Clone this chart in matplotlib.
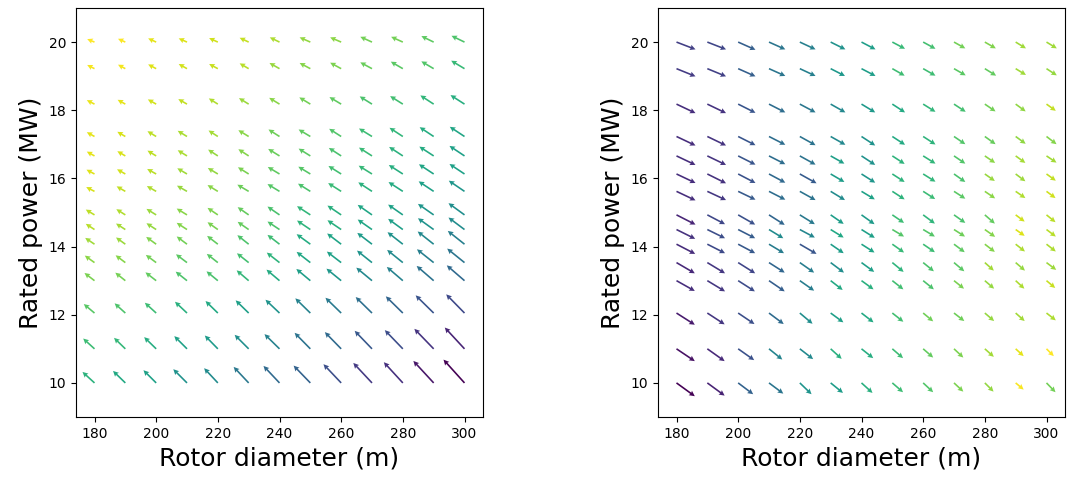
import numpy as np
import matplotlib
matplotlib.use("Agg")
import matplotlib.pyplot as plt

# Grid of designs
rotor_diameter = [180, 190, 200, 210, 220, 230, 240, 250, 260, 270, 280, 290, 300]
rated_power = [10, 11, 12.05, 13, 13.53, 14.07, 14.5, 14.93, 15.62, 16.13,
               16.66, 17.23, 18.18, 19.22, 20]

# Left panel: arrow components (leftward length, upward length), one row per rated power
left_dx = [
    [12, 12.3, 12.7, 13.7, 13.7, 15, 16, 16.7, 17.7, 18.7, 19, 20.3, 21],
    [11.3, 11.3, 12, 12.7, 13, 14, 15, 15.7, 16.3, 17.3, 18, 19.3, 19.7],
    [10.7, 10.7, 11.3, 12, 12.3, 13, 14, 15, 15.7, 16.3, 17, 18, 18.3],
    [10, 10, 10.7, 11.3, 11.3, 12, 13, 14, 14.7, 15.7, 16, 17, 17.7],
    [9.7, 9.7, 10.3, 11, 11, 11.7, 12.7, 13.7, 14.3, 15, 15.7, 16.7, 17.3],
    [9.3, 9.3, 10, 10.3, 10.7, 11.3, 12, 13.7, 14, 14.7, 15.3, 16, 16.7],
    [8.7, 9.3, 9.7, 10.3, 10.3, 11, 12, 13.3, 13.7, 14.3, 14.7, 15.7, 16],
    [8.7, 9, 9.7, 10.3, 10.3, 11, 12, 13.3, 13.7, 14.3, 14.7, 15.7, 16],
    [8.3, 8.7, 9.3, 10, 10.3, 11.3, 12, 12.3, 13, 13.7, 14.3, 15, 15.7],
    [8, 8.3, 9, 9.7, 10, 10.7, 11.7, 12, 12.7, 13.3, 14, 14.7, 15],
    [7.7, 8, 8.7, 9.3, 9.7, 10.3, 11.3, 11.7, 12.3, 13, 13.7, 14.3, 15],
    [7.7, 8, 8.7, 9.3, 9.3, 10.3, 11, 11.7, 12, 13, 13.3, 14, 14.7],
    [7.7, 7.7, 8.3, 8.7, 9, 9.7, 10.3, 11, 11.7, 12.3, 12.7, 13.3, 14],
    [7.3, 7.3, 8, 8.3, 8.7, 9, 10, 10.7, 11, 11.7, 12, 12.3, 13.3],
    [7.3, 7.3, 8, 8.3, 8.7, 9, 9.7, 10.7, 11, 11.7, 11.7, 12.3, 13],
]
left_dy = [
    [11, 12, 12.7, 13.7, 14.7, 16, 17, 17.3, 18.7, 20, 20.7, 22, 23.3],
    [10.3, 11, 11.7, 12.7, 13.3, 14, 14.7, 16, 16.7, 18, 18.7, 20, 21.3],
    [9, 9.7, 10.3, 11.3, 12, 12.7, 13.3, 14.7, 15.3, 16, 16.7, 17.7, 18.7],
    [7.7, 8, 8.3, 9, 9.3, 10.3, 11, 11.7, 12, 13, 13.7, 14.7, 15.3],
    [7, 7.3, 7.7, 8.3, 8.7, 9.3, 10, 10.7, 11, 12, 12.7, 13.3, 14],
    [6.3, 6.7, 7.3, 7.7, 8.3, 9, 9.3, 10, 10.7, 11.3, 12, 12.7, 13.3],
    [5.7, 6, 6.3, 6.7, 7.3, 7.7, 8, 9, 9.3, 10, 10.7, 11.3, 12],
    [5.3, 5.7, 6, 6.3, 7, 7.7, 8.3, 8.7, 9.3, 10, 10.3, 11, 11.7],
    [4.3, 5, 5.3, 5.7, 6.3, 6.7, 7.3, 7.7, 8.3, 9, 9.3, 10, 10.7],
    [4.3, 4.7, 5, 5.7, 6, 6.7, 7, 7.3, 8, 8.3, 9, 9.7, 10],
    [4.3, 4.7, 5.3, 5.7, 6.3, 6.7, 7, 7.3, 8, 8.3, 9, 9.3, 10],
    [4.3, 4.7, 5.3, 5.7, 6, 6.3, 7, 7, 7.7, 8, 8.7, 9.3, 9.7],
    [4, 4.3, 4.7, 5, 5.7, 6, 6.3, 6.7, 7, 7.7, 8, 8.7, 9],
    [3.7, 4, 4.3, 4.7, 4.7, 5.3, 5.7, 5.7, 6, 6.3, 7, 7.3, 8],
    [3, 3.3, 3.7, 3.7, 4, 4.3, 4.7, 4.7, 4.7, 5.3, 5.3, 6, 6.3],
]

# Right panel: arrow components (rightward length, downward length)
right_dx = [
    [18.3, 17.3, 15, 14.3, 11.7, 12.3, 11, 10.7, 10, 9.3, 8.7, 8, 9],
    [18.3, 17.3, 16, 13.3, 13.3, 11, 11.7, 10.7, 10, 9.3, 9, 8, 7.3],
    [18.3, 17.3, 16.3, 14.7, 12.7, 12.7, 12, 11, 10, 10.3, 9.3, 9, 9.3],
    [18.3, 17.7, 16.7, 15.7, 14.3, 12, 12, 11, 10.7, 10, 9.3, 8.7, 8.7],
    [18.3, 17.7, 17, 15.7, 14.3, 13.3, 12.7, 11.3, 10.7, 10.3, 9, 9.3, 9.7],
    [18.7, 17.7, 17, 15, 16.7, 13, 13, 11.7, 11.7, 10.7, 10, 9.3, 9.3],
    [18.7, 17.7, 17, 14.3, 15, 13, 13.3, 11.7, 11.7, 11, 10.3, 9, 9.3],
    [19, 17.7, 17, 15.7, 15, 13, 13, 11.7, 11.7, 11.3, 10, 9, 9],
    [19, 18.7, 17.3, 16.3, 15.7, 14.3, 13.3, 12.3, 12, 11.3, 10.3, 9.7, 9],
    [19, 18.7, 17.3, 16.3, 16.7, 13.7, 13.7, 12.3, 12.3, 11.3, 10, 9.7, 9.3],
    [19, 18.7, 17.3, 16.3, 15.7, 13.7, 13.7, 12.3, 12.3, 11.3, 10.3, 9.7, 10],
    [19, 18.7, 17.3, 16.3, 15.7, 14.7, 13.7, 12.7, 12.3, 11.3, 10.7, 10, 10],
    [19, 18.7, 17.3, 16.3, 15.7, 14.7, 13.7, 12.7, 12.3, 11.7, 10.7, 10, 9.3],
    [19, 18.7, 17.3, 16.3, 15.7, 14.3, 14, 12.3, 12.3, 11.7, 11.3, 10.3, 10.3],
    [19, 18.7, 17.3, 16.3, 15.7, 14.7, 14, 12.7, 12.3, 11.3, 11, 10.3, 10.3],
]
right_dy = [
    [13.3, 12.7, 11.3, 10.7, 11.3, 10, 10, 9.3, 9.3, 8.7, 8.7, 6.7, 9.3],
    [12.3, 12.3, 11.3, 10.7, 10.3, 10, 9.3, 9.3, 8.7, 8.7, 8, 7.3, 7.3],
    [11.7, 11.3, 11, 11, 10.7, 9.3, 9.3, 8.7, 8.3, 8, 8, 8, 7.3],
    [10.3, 10.7, 10.7, 10.7, 10, 9.3, 8.7, 8.7, 8.7, 8, 8, 8, 7.3],
    [10.7, 10.7, 10.7, 10, 10, 10, 9.3, 9.3, 8.7, 8.7, 8, 8, 7.3],
    [9.7, 9, 9, 9, 9.7, 9, 8.3, 8.3, 8, 8, 7.7, 7.3, 7.3],
    [9.3, 8.7, 8.7, 8.7, 8, 8, 8.3, 7, 7, 7, 7.3, 6.3, 7],
    [9.7, 9.3, 9.7, 10, 9.3, 9, 9.3, 8, 8.7, 8, 8.7, 6.7, 7.3],
    [9, 8.7, 8.3, 8.3, 8.7, 8.7, 8, 8, 7.7, 7.3, 7, 6.7, 6.7],
    [9, 9.3, 9, 8.7, 9.3, 8, 8.7, 8, 7.7, 8, 7, 7.3, 6.7],
    [9, 9, 8.7, 8.3, 8.7, 7.7, 9, 8, 7.7, 7.7, 7, 7, 6.7],
    [9, 9, 8.7, 8.3, 8.7, 8.3, 9, 8.3, 8, 7.7, 7.7, 7.3, 7.7],
    [9, 9, 8.7, 8.3, 8.3, 8.3, 8.3, 8.3, 7.7, 7.7, 7.3, 7.3, 6.7],
    [7.7, 7.7, 7.7, 7.3, 7.3, 7.3, 7.3, 7, 7, 6.7, 7, 6.3, 6.7],
    [7.3, 7.3, 7.7, 7.3, 7.3, 7.3, 7.3, 6.7, 6.7, 6.3, 6.3, 6.3, 6.3],
]

W, H, DPI = 1067, 479, 100
fig = plt.figure(figsize=(W / DPI, H / DPI), dpi=DPI)
ax1 = fig.add_axes([76 / W, 1 - 417 / H, 407 / W, 409 / H])
ax2 = fig.add_axes([658 / W, 1 - 417 / H, 407 / W, 409 / H])

X, Y = np.meshgrid(rotor_diameter, rated_power)

panels = [
    (ax1, -np.array(left_dx), np.array(left_dy)),
    (ax2, np.array(right_dx), -np.array(right_dy)),
]
for ax, U, V in panels:
    C = np.hypot(U, V)
    ax.quiver(X, Y, U, V, C, cmap="viridis_r", angles="uv",
              scale_units="dots", scale=1, pivot="tail",
              width=0.004, headwidth=3.4, headlength=3.4, headaxislength=3.0)
    ax.set_xlim(174, 306)
    ax.set_ylim(9, 21)
    ax.set_xticks([180, 200, 220, 240, 260, 280, 300])
    ax.set_yticks([10, 12, 14, 16, 18, 20])
    ax.tick_params(labelsize=10)
    ax.set_xlabel("Rotor diameter (m)", fontsize=18)
    ax.set_ylabel("Rated power (MW)", fontsize=18)

fig.savefig("out.png", dpi=DPI)
